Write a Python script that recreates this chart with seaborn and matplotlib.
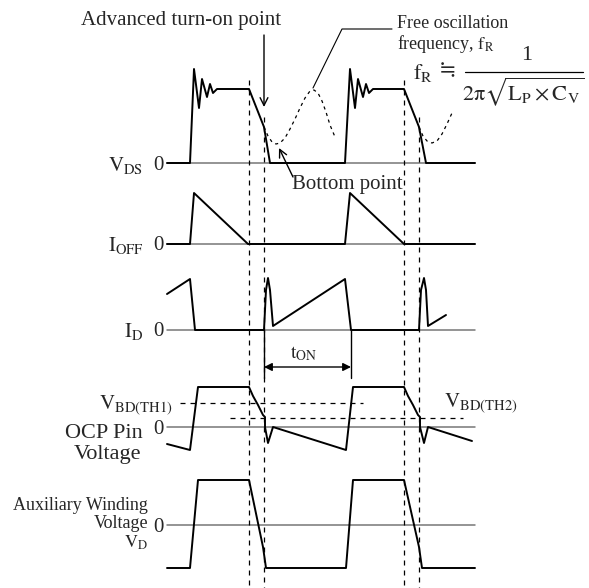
import pandas as pd
import matplotlib.pyplot as plt
import seaborn as sns

# waveform data: time axis (px) and level above each trace's zero line (px)
vds_t = [167, 190, 194, 199, 202, 207, 210, 213, 217, 249, 264, 270, 345, 350, 355, 358, 363, 366, 369, 373, 404, 419, 426, 475]
vds_v = [0, 0, 94, 55, 84, 66, 79, 70, 74, 74, 36, 0, 0, 94, 55, 84, 66, 79, 70, 74, 74, 36, 0, 0]
osc1_t = [264, 268, 272, 276, 280, 285, 290, 295, 300, 305, 310, 314, 318, 322, 326, 330, 335]
osc1_v = [36, 27, 21, 19, 20, 25, 34, 44, 55, 65, 72, 73, 70, 62, 51, 38, 26]
osc2_t = [419, 423, 427, 432, 437, 442, 447, 452]
osc2_v = [36, 27, 22, 20, 22, 29, 39, 50]
ioff_t = [167, 190, 194, 248, 345, 350, 404, 475]
ioff_v = [0, 0, 51, 0, 0, 51, 0, 0]
id_t = [167, 190, 195, 264, 266, 268, 270, 273, 345, 351, 419, 421, 424, 426, 428, 446]
id_v = [36, 51, 0, 0, 40, 52, 40, 4, 51, 0, 0, 40, 52, 40, 4, 15]
ocp_t = [167, 190, 198, 249, 253, 258, 263, 265, 265, 268, 273, 346, 353, 404, 408, 413, 418, 420, 420, 424, 428, 472]
ocp_v = [-17, -23, 40, 40, 31, 22, 12, 10, 0, -16, 0, -23, 40, 40, 31, 22, 12, 10, 0, -16, 0, -14]
aux_t = [167, 190, 198, 249, 263, 266, 346, 353, 404, 419, 422, 475]
aux_v = [-43, -43, 45, 45, -22, -43, -43, 45, 45, -22, -43, -43]

# zero lines of each trace (px from top)
zero_vds, zero_ioff, zero_id, zero_ocp, zero_aux = 163, 244, 330, 427, 525
th1_level, th2_level = 24, 9
edges = [249, 264, 404, 419]

sns.set_style("white")
plt.rcParams['font.family'] = ['Liberation Serif', 'DejaVu Serif']
plt.rcParams['mathtext.fontset'] = 'stix'

fig = plt.figure(figsize=(5.89, 5.88), dpi=100)
ax = fig.add_axes([0, 0, 1, 1])

gray = '#777777'
for z in [zero_vds, zero_ioff, zero_id, zero_ocp, zero_aux]:
    ax.plot([167, 475], [z, z], color=gray, lw=1.1, zorder=1)


def trace(t, v, zero, **kw):
    df = pd.DataFrame({'t': t, 'y': [zero - x for x in v]})
    sns.lineplot(data=df, x='t', y='y', sort=False, estimator=None, ax=ax,
                 color='black', **kw)


trace(vds_t, vds_v, zero_vds, lw=1.4, zorder=3)
trace(osc1_t, osc1_v, zero_vds, lw=0.9, linestyle=(0, (2.5, 3)), zorder=2)
trace(osc2_t, osc2_v, zero_vds, lw=0.9, linestyle=(0, (2.5, 3)), zorder=2)
trace(ioff_t, ioff_v, zero_ioff, lw=1.4, zorder=3)
trace(id_t, id_v, zero_id, lw=1.4, zorder=3)
trace(ocp_t, ocp_v, zero_ocp, lw=1.4, zorder=3)
trace(aux_t, aux_v, zero_aux, lw=1.4, zorder=3)
ax.set_xlim(0, 589)
ax.set_ylim(588, 0)
ax.axis('off')

# thresholds
ax.plot([180, 363], [zero_ocp - th1_level] * 2, color='black', lw=0.9, ls=(0, (4, 4)))
ax.plot([230, 463], [zero_ocp - th2_level] * 2, color='black', lw=0.9, ls=(0, (4, 4)))

# timing edges
for i, x in enumerate(edges):
    ax.plot([x, x], [80 if i % 2 == 0 else 117, 588], color='black', lw=0.9,
            ls=(0, (4, 4)), zorder=1)

# tON
ax.plot([264, 264], [330, 378], color='black', lw=1.0)
ax.plot([351, 351], [330, 378], color='black', lw=1.0)
ax.annotate('', xy=(264, 367), xytext=(351, 367),
            arrowprops=dict(arrowstyle='<|-|>', color='black', lw=1.0, mutation_scale=12,
                            shrinkA=0, shrinkB=0))
ax.text(290, 354, r'$\mathrm{t_{ON}}$', fontsize=14, va='center', ha='left')

fs = 15
d = 2  # small baseline nudge
# labels
ax.text(181, 19 + d, 'Advanced turn-on point', fontsize=fs, ha='center', va='center')
ax.annotate('', xy=(264, 107), xytext=(264, 35),
            arrowprops=dict(arrowstyle='->', color='black', lw=1.0, mutation_scale=14,
                            shrinkA=0, shrinkB=0))
ax.text(292, 183 + d, 'Bottom point', fontsize=fs, ha='left', va='center')
ax.annotate('', xy=(279, 148), xytext=(293, 177),
            arrowprops=dict(arrowstyle='->', color='black', lw=1.0, mutation_scale=14,
                            shrinkA=0, shrinkB=0))
ax.text(397, 23, 'Free oscillation', fontsize=13, ha='left', va='center')
ax.text(397, 44, r'frequency, $\mathrm{f_R}$', fontsize=13, ha='left', va='center')
ax.plot([392, 342, 313], [29, 29, 88], color='black', lw=0.8)
ax.text(413, 73, r'$\mathrm{f_R}$', fontsize=16, ha='left', va='center')
ax.text(439, 71, '≒', fontsize=15, ha='left', va='center', family=['DejaVu Serif'])
ax.text(527, 55, '1', fontsize=16, ha='center', va='center')
ax.plot([465, 583], [72, 72], color='black', lw=0.9)
ax.text(523, 92, r'$\mathrm{2π}\sqrt{\mathrm{L_P}\times\mathrm{C_V}}$', fontsize=16,
        ha='center', va='center')

ax.text(143, 163 + d, r'$\mathrm{V_{DS}}$', fontsize=fs, ha='right', va='center')
ax.text(144, 244 + d, r'$\mathrm{I_{OFF}}$', fontsize=fs, ha='right', va='center')
ax.text(143, 330 + d, r'$\mathrm{I_{D}}$', fontsize=fs, ha='right', va='center')
for z in [zero_vds, zero_ioff, zero_id, zero_ocp, zero_aux]:
    ax.text(158, z + d, '0', fontsize=fs, ha='center', va='center')
ax.text(173, 403 + d, r'$\mathrm{V_{BD(TH1)}}$', fontsize=fs, ha='right', va='center')
ax.text(444, 401 + d, r'$\mathrm{V_{BD(TH2)}}$', fontsize=fs, ha='left', va='center')
ax.text(104, 432 + d, 'OCP Pin', fontsize=16, ha='center', va='center')
ax.text(108, 452 + d, 'Voltage', fontsize=16, ha='center', va='center')
ax.text(148, 503 + d, 'Auxiliary Winding', fontsize=13, ha='right', va='center')
ax.text(148, 522 + d, 'Voltage', fontsize=13, ha='right', va='center')
ax.text(148, 541 + d, r'$\mathrm{V_D}$', fontsize=13, ha='right', va='center')

fig.savefig('out.png', dpi=100)
